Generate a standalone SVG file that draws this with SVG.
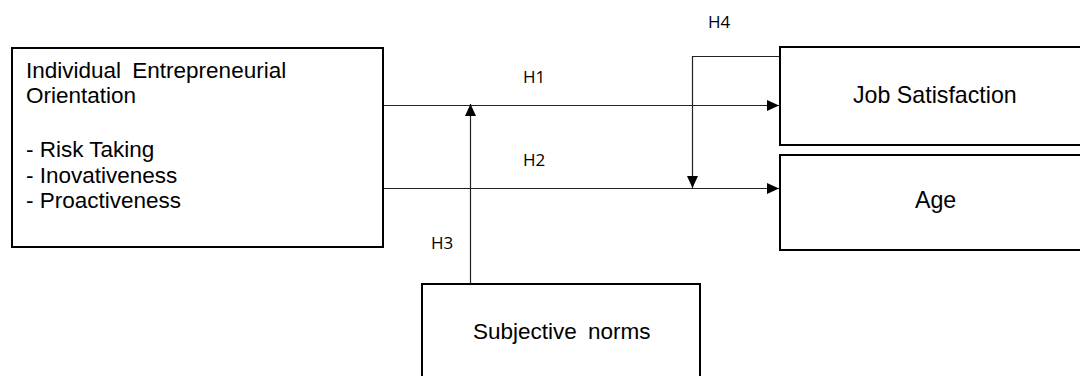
<svg xmlns="http://www.w3.org/2000/svg" width="1080" height="376" viewBox="0 0 1080 376">
  <style>
    .box { fill: #ffffff; stroke: #000000; stroke-width: 2; }
    .txt { font-family: "Liberation Sans", Arial, sans-serif; font-size: 22.5px; fill: #000000; }
    .big { font-size: 23.2px; }
    .lbl { font-family: "Open Sans", "Liberation Sans", sans-serif; font-size: 17px; fill: #000000; }
    .link { fill: none; stroke: #222222; stroke-width: 1.2; }
  </style>
  <defs>
    <marker id="arrow" viewBox="0 0 12 11" refX="12" refY="5.5" markerWidth="12" markerHeight="11" markerUnits="userSpaceOnUse" orient="auto">
      <path d="M0,0 L12,5.5 L0,11 Z" fill="#000000"/>
    </marker>
  </defs>
  <rect width="1080" height="376" fill="#ffffff"/>

  <!-- connectors -->
  <g id="connectors">
    <line class="link" x1="384" y1="105.5" x2="779" y2="105.5" marker-end="url(#arrow)"/>
    <line class="link" x1="384" y1="188.5" x2="779" y2="188.5" marker-end="url(#arrow)"/>
    <line class="link" x1="470.5" y1="284" x2="470.5" y2="104" marker-end="url(#arrow)"/>
    <polyline class="link" points="780,56.5 692.5,56.5 692.5,188" marker-end="url(#arrow)"/>
    <text class="lbl" x="523" y="83">H1</text>
    <text class="lbl" x="523" y="166">H2</text>
    <text class="lbl" x="431" y="249">H3</text>
    <text class="lbl" x="708" y="28">H4</text>
  </g>

  <!-- independent variable -->
  <g id="node-ieo">
    <rect class="box" x="12" y="48" width="371" height="199"/>
    <text class="txt" x="26" y="78" word-spacing="5">Individual Entrepreneurial</text>
    <text class="txt" x="26" y="103">Orientation</text>
    <text class="txt" x="26" y="157">- Risk Taking</text>
    <text class="txt" x="26" y="183">- Inovativeness</text>
    <text class="txt" x="26" y="208">- Proactiveness</text>
  </g>

  <!-- dependent variable -->
  <g id="node-job-satisfaction">
    <rect class="box" x="780" y="47" width="310" height="98"/>
    <text class="txt big" x="853" y="103">Job Satisfaction</text>
  </g>

  <!-- moderator: age -->
  <g id="node-age">
    <rect class="box" x="780" y="155" width="310" height="95"/>
    <text class="txt big" x="915" y="208">Age</text>
  </g>

  <!-- moderator: subjective norms -->
  <g id="node-subjective-norms">
    <rect class="box" x="422" y="284" width="278" height="110"/>
    <text class="txt" x="473" y="339" word-spacing="5">Subjective norms</text>
  </g>
</svg>
